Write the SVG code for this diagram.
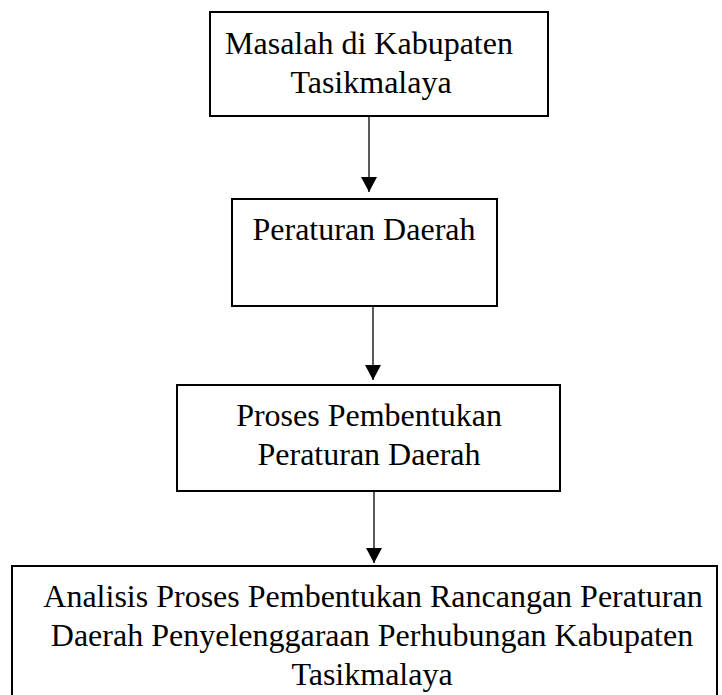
<svg xmlns="http://www.w3.org/2000/svg" width="722" height="695" viewBox="0 0 722 695">
<style>
.box{fill:#fff;stroke:#000;stroke-width:2}
.lbl{font-family:"Liberation Serif","Times New Roman",serif;font-size:32px;fill:#000;text-anchor:middle}
.conn{stroke:#000;stroke-width:1.3;fill:none}
</style>
<defs>
<marker id="ah" viewBox="0 0 15 16" refX="15" refY="8" markerWidth="15" markerHeight="16" markerUnits="userSpaceOnUse" orient="auto">
<path d="M0,0 L15,8 L0,16 z" fill="#000"/>
</marker>
</defs>
<rect width="722" height="695" fill="#fff"/>
<g id="connectors">
<line class="conn" x1="369" y1="117" x2="369" y2="192" marker-end="url(#ah)"/>
<line class="conn" x1="373" y1="307" x2="373" y2="380" marker-end="url(#ah)"/>
<line class="conn" x1="374" y1="492" x2="374" y2="563" marker-end="url(#ah)"/>
</g>
<g id="node1">
<rect class="box" x="210" y="12" width="338" height="104"/>
<text class="lbl" x="369" y="54">Masalah di Kabupaten</text>
<text class="lbl" x="371" y="93">Tasikmalaya</text>
</g>
<g id="node2">
<rect class="box" x="232" y="199" width="265" height="107"/>
<text class="lbl" x="364" y="240">Peraturan Daerah</text>
</g>
<g id="node3">
<rect class="box" x="177" y="385" width="383" height="106"/>
<text class="lbl" x="369" y="426">Proses Pembentukan</text>
<text class="lbl" x="369" y="465">Peraturan Daerah</text>
</g>
<g id="node4">
<rect class="box" x="12" y="566" width="705" height="140"/>
<text class="lbl" x="373" y="607">Analisis Proses Pembentukan Rancangan Peraturan</text>
<text class="lbl" x="372" y="646">Daerah Penyelenggaraan Perhubungan Kabupaten</text>
<text class="lbl" x="372" y="685">Tasikmalaya</text>
</g>
</svg>
